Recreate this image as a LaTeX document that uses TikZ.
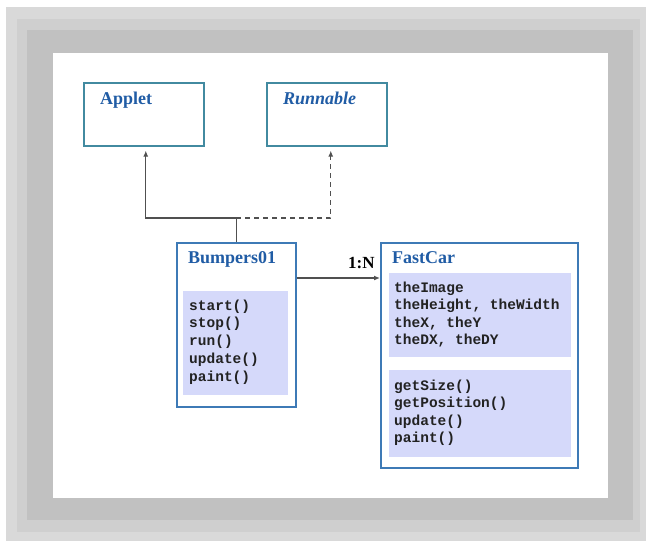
\documentclass[tikz,border=0pt]{standalone}
\usepackage{fontspec}
\setmainfont{Liberation Serif}
\setmonofont{Liberation Mono}
\usetikzlibrary{arrows.meta,calc}
\definecolor{gA}{RGB}{217,217,217}
\definecolor{gB}{RGB}{207,207,207}
\definecolor{gC}{RGB}{193,193,193}
\definecolor{titleblue}{RGB}{32,92,165}
\definecolor{boxblue}{RGB}{62,122,182}
\definecolor{boxteal}{RGB}{66,138,160}
\definecolor{lav}{RGB}{213,217,250}
\definecolor{conncol}{RGB}{80,80,80}
\definecolor{codecol}{RGB}{34,34,34}
\tikzset{
  classbox/.style={draw=boxblue, line width=1.6pt, fill=white, anchor=north west, inner sep=0pt},
  topbox/.style={draw=boxteal, line width=1.6pt, fill=white, anchor=north west, inner sep=0pt},
  lavbox/.style={fill=lav, draw=none, anchor=north west, inner sep=0pt},
  titletext/.style={anchor=base west, inner sep=0pt, text=titleblue, font=\fontsize{18}{20}\selectfont\bfseries},
  codetext/.style={anchor=base west, inner sep=0pt, text=codecol, font=\ttfamily\bfseries\fontsize{14.5}{17}\selectfont},
  conn/.style={draw=conncol, line width=1.2pt},
  tip/.style={-{Latex[length=6pt,width=5pt]}, shorten >=4pt}
}
\begin{document}
\begin{tikzpicture}[x=1pt,y=-1pt]
\useasboundingbox (0,0) rectangle (646,541);
\fill[white] (0,0) rectangle (646,541);
\fill[gA] (6,7) rectangle (646,541);
\fill[gB] (17,19) rectangle (640,532);
\fill[gC] (27,30) rectangle (633,520);
\fill[white] (53,53) rectangle (608,498);

% top boxes
\node[topbox, minimum width=120pt, minimum height=63pt] (applet) at (83,82) {};
\node[topbox, minimum width=120pt, minimum height=63pt] (runnable) at (266,82) {};
\node[titletext] (appletT) at (100,104) {Applet};
\node[titletext, font=\fontsize{18}{20}\selectfont\bfseries\itshape] (runnableT) at (283,104) {Runnable};

% Bumpers01
\node[classbox, minimum width=119pt, minimum height=164pt] (bump) at (176,242) {};
\node[lavbox, minimum width=105pt, minimum height=104pt] (bumpM) at (183,291) {};
\node[titletext] (bumpT) at (188,263) {Bumpers01};
\foreach \t [count=\i] in {start(),stop(),run(),update(),paint()}
  \node[codetext] (bm\i) at (189,{310+17.8*(\i-1)}) {\t};

% FastCar
\node[classbox, minimum width=197pt, minimum height=225pt] (fc) at (380,242) {};
\node[lavbox, minimum width=182pt, minimum height=84pt] (fcA) at (389,273) {};
\node[lavbox, minimum width=182pt, minimum height=87pt] (fcM) at (389,370) {};
\node[titletext] (fcT) at (392,263) {FastCar};
\foreach \t [count=\i] in {theImage,{theHeight, theWidth},{theX, theY},{theDX, theDY}}
  \node[codetext] (fa\i) at (394,{292+17.6*(\i-1)}) {\t};
\foreach \t [count=\i] in {getSize(),getPosition(),update(),paint()}
  \node[codetext] (fm\i) at (394,{390+17.6*(\i-1)}) {\t};

% connectors
\coordinate (j) at ($(bump.north)+(0,-24)$);
\draw[conn] (bump.north) -- (j);
\draw[conn, tip] (j) -| ($(applet.south)+(2,0)$);
\draw[conn, tip, dash pattern=on 5pt off 4pt] (j) -| ($(runnable.south)+(4,0)$);
\draw[conn, -{Latex[length=6pt,width=5pt]}] ($(bump.north east)+(0,36)$) -- ($(fc.north west)+(0,36)$);
\node[anchor=base west, inner sep=0pt, font=\fontsize{17}{19}\selectfont\bfseries] (card) at (348,268) {1:N};
\end{tikzpicture}
\end{document}
